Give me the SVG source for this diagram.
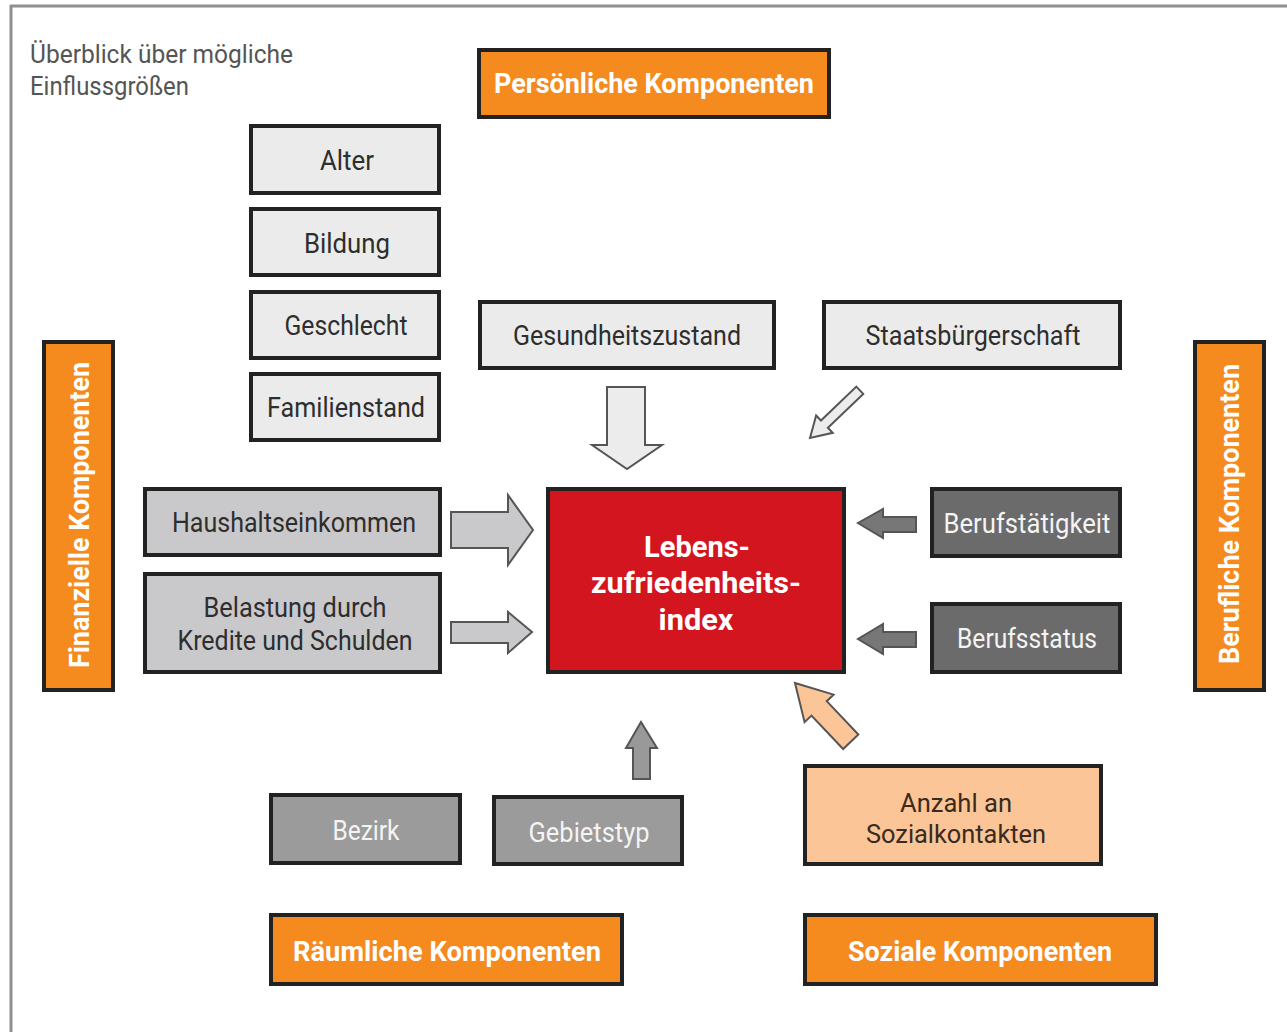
<svg xmlns="http://www.w3.org/2000/svg" width="1287" height="1032" viewBox="0 0 1287 1032">
<style>
  .box { stroke: #222; stroke-width: 4; }
  .orange { fill: #f58a1f; }
  .light { fill: #ebebeb; }
  .mid { fill: #c9c9cb; }
  .dark { fill: #6b6b6b; }
  .gray { fill: #9b9b9b; }
  .red { fill: #d2151f; }
  .peach { fill: #fbc597; }
  text { font-family: Roboto, "Liberation Sans", sans-serif; text-anchor: middle; }
  .t { font-size: 27px; fill: #2e2e2e; }
  .t2 { font-size: 26px; fill: #2e2e2e; }
  .tw { font-size: 27px; fill: #f4f4f4; }
  .h { font-size: 28px; font-weight: bold; fill: #ffffff; }
  .c { font-size: 30px; font-weight: bold; fill: #ffffff; }
  .arr { stroke: #555; stroke-width: 2; stroke-linejoin: miter; }
</style>
<rect x="0" y="0" width="1287" height="1032" fill="#ffffff"/>
<g id="frame">
  <line x1="10" y1="6" x2="1287" y2="6" stroke="#8f8f8f" stroke-width="3"/>
  <line x1="11" y1="5" x2="11" y2="1032" stroke="#8f8f8f" stroke-width="3"/>
</g>
<g id="title">
  <text x="30" y="63" style="font-size:26px;fill:#555;text-anchor:start" textLength="263" lengthAdjust="spacingAndGlyphs">Überblick über mögliche</text>
  <text x="30" y="95" style="font-size:26px;fill:#555;text-anchor:start" textLength="159" lengthAdjust="spacingAndGlyphs">Einflussgrößen</text>
</g>
<g id="connectors">
  <polygon class="arr" fill="#ececec" points="607,387 645,387 645,445 662,445 627,469 592,445 607,445"/>
  <polygon class="arr" fill="#ececec" points="0,0 20,-12 20,-5 69,-5 69,5 20,5 20,12" transform="translate(810,438) rotate(-43.8)"/>
  <polygon class="arr" fill="#c9c9cb" points="451,512 508,512 508,495 533,530 508,565 508,548 451,548"/>
  <polygon class="arr" fill="#c9c9cb" points="451,622 508,622 508,612 532,632 508,653 508,643 451,643"/>
  <polygon class="arr" fill="#777777" points="916,517 883,517 883,509 858,523 883,538 883,532 916,532"/>
  <polygon class="arr" fill="#777777" points="916,632 883,632 883,624 858,639 883,654 883,647 916,647"/>
  <polygon class="arr" fill="#999999" points="633,779 633,748 626,748 641,722 657,748 650,748 650,779"/>
  <polygon class="arr" fill="#fbc597" points="0,0 35,-20 35,-10.5 81,-10.5 81,10.5 35,10.5 35,20" transform="translate(795,683) rotate(46.5)"/>
</g>
<g id="persoenliche">
  <rect class="box orange" x="479" y="50" width="350" height="67"/>
  <text class="h" x="654" y="93" textLength="320" lengthAdjust="spacingAndGlyphs">Persönliche Komponenten</text>
</g>
<g id="alter">
  <rect class="box light" x="251" y="126" width="188" height="67"/>
  <text class="t" x="347" y="170" textLength="54" lengthAdjust="spacingAndGlyphs">Alter</text>
</g>
<g id="bildung">
  <rect class="box light" x="251" y="209" width="188" height="66"/>
  <text class="t" x="347" y="253" textLength="86" lengthAdjust="spacingAndGlyphs">Bildung</text>
</g>
<g id="geschlecht">
  <rect class="box light" x="251" y="292" width="188" height="66"/>
  <text class="t" x="346" y="335" textLength="123" lengthAdjust="spacingAndGlyphs">Geschlecht</text>
</g>
<g id="familienstand">
  <rect class="box light" x="251" y="374" width="188" height="66"/>
  <text class="t" x="346" y="417" textLength="158" lengthAdjust="spacingAndGlyphs">Familienstand</text>
</g>
<g id="gesundheitszustand">
  <rect class="box light" x="480" y="302" width="294" height="66"/>
  <text class="t" x="627" y="345" textLength="228" lengthAdjust="spacingAndGlyphs">Gesundheitszustand</text>
</g>
<g id="staatsbuergerschaft">
  <rect class="box light" x="824" y="302" width="296" height="66"/>
  <text class="t" x="973" y="345" textLength="215" lengthAdjust="spacingAndGlyphs">Staatsbürgerschaft</text>
</g>
<g id="finanzielle">
  <rect class="box orange" x="44" y="342" width="69" height="348"/>
  <text class="h" transform="translate(89,515) rotate(-90)" x="0" y="0" textLength="306" lengthAdjust="spacingAndGlyphs">Finanzielle Komponenten</text>
</g>
<g id="berufliche">
  <rect class="box orange" x="1195" y="342" width="69" height="348"/>
  <text class="h" transform="translate(1239,514) rotate(-90)" x="0" y="0" textLength="300" lengthAdjust="spacingAndGlyphs">Berufliche Komponenten</text>
</g>
<g id="haushaltseinkommen">
  <rect class="box mid" x="145" y="489" width="295" height="66"/>
  <text class="t" x="294" y="532" textLength="244" lengthAdjust="spacingAndGlyphs">Haushaltseinkommen</text>
</g>
<g id="belastung">
  <rect class="box mid" x="145" y="574" width="295" height="98"/>
  <text class="t" x="295" y="617" textLength="183" lengthAdjust="spacingAndGlyphs">Belastung durch</text>
  <text class="t" x="295" y="650" textLength="235" lengthAdjust="spacingAndGlyphs">Kredite und Schulden</text>
</g>
<g id="lebenszufriedenheitsindex">
  <rect class="box red" x="548" y="489" width="296" height="183"/>
  <text class="c" x="697" y="557" textLength="106" lengthAdjust="spacingAndGlyphs">Lebens-</text>
  <text class="c" x="696" y="593" textLength="210" lengthAdjust="spacingAndGlyphs">zufriedenheits-</text>
  <text class="c" x="696" y="630" textLength="75" lengthAdjust="spacingAndGlyphs">index</text>
</g>
<g id="berufstaetigkeit">
  <rect class="box dark" x="932" y="489" width="188" height="67"/>
  <text class="tw" x="1027" y="533" textLength="167" lengthAdjust="spacingAndGlyphs">Berufstätigkeit</text>
</g>
<g id="berufsstatus">
  <rect class="box dark" x="932" y="604" width="188" height="68"/>
  <text class="tw" x="1027" y="648" textLength="140" lengthAdjust="spacingAndGlyphs">Berufsstatus</text>
</g>
<g id="bezirk">
  <rect class="box gray" x="271" y="795" width="189" height="68"/>
  <text class="tw" x="366" y="840" textLength="67" lengthAdjust="spacingAndGlyphs">Bezirk</text>
</g>
<g id="gebietstyp">
  <rect class="box gray" x="494" y="797" width="188" height="67"/>
  <text class="tw" x="589" y="842" textLength="121" lengthAdjust="spacingAndGlyphs">Gebietstyp</text>
</g>
<g id="sozialkontakte">
  <rect class="box peach" x="805" y="766" width="296" height="98"/>
  <text class="t2" x="956" y="812" textLength="112" lengthAdjust="spacingAndGlyphs" style="fill:#3a2a20">Anzahl an</text>
  <text class="t2" x="956" y="843" textLength="180" lengthAdjust="spacingAndGlyphs" style="fill:#3a2a20">Sozialkontakten</text>
</g>
<g id="raeumliche">
  <rect class="box orange" x="271" y="915" width="351" height="69"/>
  <text class="h" x="447" y="961" textLength="308" lengthAdjust="spacingAndGlyphs">Räumliche Komponenten</text>
</g>
<g id="soziale">
  <rect class="box orange" x="805" y="915" width="351" height="69"/>
  <text class="h" x="980" y="961" textLength="264" lengthAdjust="spacingAndGlyphs">Soziale Komponenten</text>
</g>
</svg>
